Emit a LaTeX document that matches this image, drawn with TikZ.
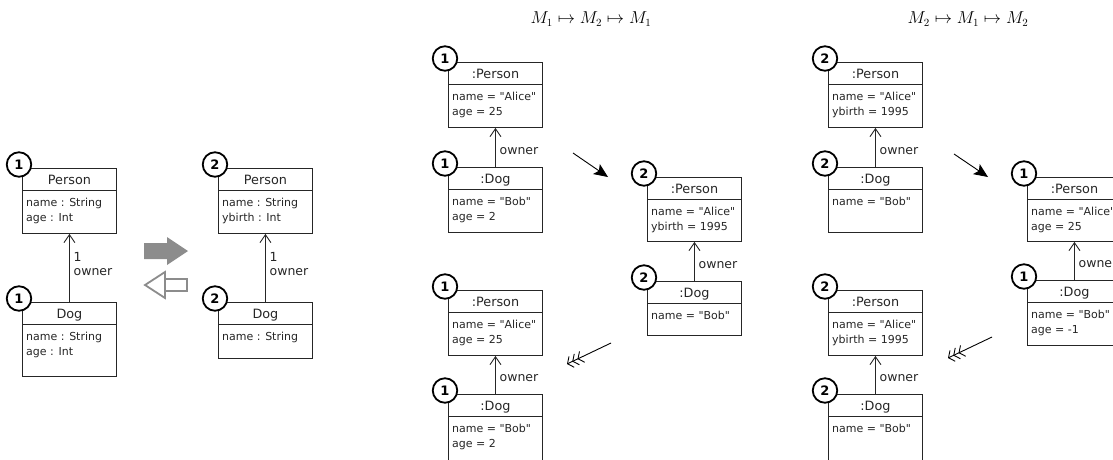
\documentclass[tikz,border=0pt]{standalone}
\usepackage{fontspec}
\usetikzlibrary{arrows.meta}
\newfontfamily\umlfont{DejaVu Sans}

\definecolor{ink}{HTML}{262626}
\definecolor{arrowgray}{HTML}{8C8C8C}

\tikzset{
  umlframe/.style={draw=ink, line width=0.9pt, fill=white, rectangle,
    anchor=north west, inner sep=0pt, minimum width=94pt},
  umldiv/.style={draw=ink, line width=0.9pt},
  umlhead/.style={anchor=base, inner sep=0pt, text=ink,
    font=\umlfont\fontsize{12.8}{15}\selectfont},
  umlattr/.style={anchor=base west, inner sep=0pt, text=ink,
    font=\umlfont\fontsize{11}{13}\selectfont},
  badge/.style={circle, draw=black, line width=1.8pt, fill=white,
    minimum size=24.5pt, inner sep=0pt,
    font=\umlfont\bfseries\fontsize{13}{13}\selectfont},
  assoc/.style={draw=ink, line width=0.9pt,
    -{Straight Barb[length=8pt,width=11pt]}},
  rolelabel/.style={anchor=west, inner sep=0pt, text=ink,
    font=\umlfont\fontsize{12.5}{15}\selectfont},
  maparrow/.style={line width=0.9pt,
    -{Stealth[length=14pt,width=12pt,inset=3pt]}},
  backarrow/.style={line width=0.9pt,
    -{Straight Barb[length=4.5pt,width=12pt,sep=0.3pt]
      Straight Barb[length=4.5pt,width=12pt,sep=0.3pt]
      Straight Barb[length=4.5pt,width=12pt]}},
  mathtitle/.style={inner sep=0pt, font=\fontsize{16}{19}\selectfont},
  bigarrow/.style={fill=arrowgray},
  hollowarrow/.style={draw=arrowgray, line width=1.8pt, fill=white}
}

% \umlbox{name}{x}{y}{height}{badge}{header}{attribute lines}
\newcommand{\umlbox}[7]{%
  \node[umlframe, minimum height=#4pt] (#1) at (#2,#3) {};
  \draw[umldiv] ([yshift=-22pt]#1.north west) -- ([yshift=-22pt]#1.north east);
  \node[umlhead] (#1-h) at ([yshift=-16.5pt]#1.north) {#6};
  \foreach \attrline [count=\k] in {#7} {
    \node[umlattr] (#1-a\k) at ([xshift=4pt, yshift={-38pt-15pt*(\k-1)}]#1.north west) {\attrline};
  }
  \node[badge] (#1-n) at ([xshift=-3pt,yshift=3.5pt]#1.north west) {#5};
}

\begin{document}
\begin{tikzpicture}[x=1pt, y=-1pt]
\path[use as bounding box] (0,0) rectangle (1113,459);

% ---------- class diagrams ----------
\umlbox{c1p}{22}{168}{65}{1}{Person}{name : String, age : Int}
\umlbox{c1d}{22}{302}{74}{1}{Dog}{name : String, age : Int}
\draw[assoc] (c1d.north) -- (c1p.south);
\node[rolelabel] (c1-mult) at ([xshift=4pt,yshift=45pt]c1d.north) {1};
\node[rolelabel] (c1-role) at ([xshift=4pt,yshift=30pt]c1d.north) {owner};

\umlbox{c2p}{218}{168}{65}{2}{Person}{name : String, ybirth : Int}
\umlbox{c2d}{218}{302}{56}{2}{Dog}{name : String}
\draw[assoc] (c2d.north) -- (c2p.south);
\node[rolelabel] (c2-mult) at ([xshift=4pt,yshift=45pt]c2d.north) {1};
\node[rolelabel] (c2-role) at ([xshift=4pt,yshift=30pt]c2d.north) {owner};

% forward / backward transformation symbols
\path[bigarrow] (144,243) -- (167,243) -- (167,237) -- (188,251)
  -- (167,265) -- (167,259) -- (144,259) -- cycle;
\path[hollowarrow] (145,285) -- (165,272) -- (165,298) -- cycle;
\path[hollowarrow] (165,279) rectangle (187,291);

% ---------- round trip M1 -> M2 -> M1 ----------
\node[mathtitle] (t1) at (591,19) {$M_1 \mapsto M_2 \mapsto M_1$};

\umlbox{a1p}{448}{62}{65}{1}{:Person}{name = "Alice", age = 25}
\umlbox{a1d}{448}{167}{65}{1}{:Dog}{name = "Bob", age = 2}
\draw[assoc] (a1d.north) -- (a1p.south);
\node[rolelabel] (a1-role) at ([xshift=4pt,yshift=16pt]a1d.north) {owner};

\umlbox{a2p}{647}{177}{64}{2}{:Person}{name = "Alice", ybirth = 1995}
\umlbox{a2d}{647}{281}{54}{2}{:Dog}{name = "Bob"}
\draw[assoc] (a2d.north) -- (a2p.south);
\node[rolelabel] (a2-role) at ([xshift=4pt,yshift=16pt]a2d.north) {owner};

\umlbox{a3p}{448}{290}{65}{1}{:Person}{name = "Alice", age = 25}
\umlbox{a3d}{448}{394}{70}{1}{:Dog}{name = "Bob", age = 2}
\draw[assoc] (a3d.north) -- (a3p.south);
\node[rolelabel] (a3-role) at ([xshift=4pt,yshift=16pt]a3d.north) {owner};

\coordinate (af-s) at (573,153);
\coordinate (af-e) at (608,177);
\draw[maparrow] (af-s) -- (af-e);
\coordinate (ab-s) at (611,343);
\coordinate (ab-e) at (567,364);
\draw[backarrow] (ab-s) -- (ab-e);

% ---------- round trip M2 -> M1 -> M2 ----------
\node[mathtitle] (t2) at (968,19) {$M_2 \mapsto M_1 \mapsto M_2$};

\umlbox{b1p}{828}{62}{65}{2}{:Person}{name = "Alice", ybirth = 1995}
\umlbox{b1d}{828}{167}{65}{2}{:Dog}{name = "Bob"}
\draw[assoc] (b1d.north) -- (b1p.south);
\node[rolelabel] (b1-role) at ([xshift=4pt,yshift=16pt]b1d.north) {owner};

\umlbox{b2p}{1027}{177}{64}{1}{:Person}{name = "Alice", age = 25}
\umlbox{b2d}{1027}{280}{65}{1}{:Dog}{name = "Bob", age = -1}
\draw[assoc] (b2d.north) -- (b2p.south);
\node[rolelabel] (b2-role) at ([xshift=4pt,yshift=16pt]b2d.north) {owner};

\umlbox{b3p}{828}{290}{65}{2}{:Person}{name = "Alice", ybirth = 1995}
\umlbox{b3d}{828}{394}{70}{2}{:Dog}{name = "Bob"}
\draw[assoc] (b3d.north) -- (b3p.south);
\node[rolelabel] (b3-role) at ([xshift=4pt,yshift=16pt]b3d.north) {owner};

\coordinate (bf-s) at (954,154);
\coordinate (bf-e) at (988,177);
\draw[maparrow] (bf-s) -- (bf-e);
\coordinate (bb-s) at (992,337);
\coordinate (bb-e) at (948,358);
\draw[backarrow] (bb-s) -- (bb-e);
\end{tikzpicture}
\end{document}
